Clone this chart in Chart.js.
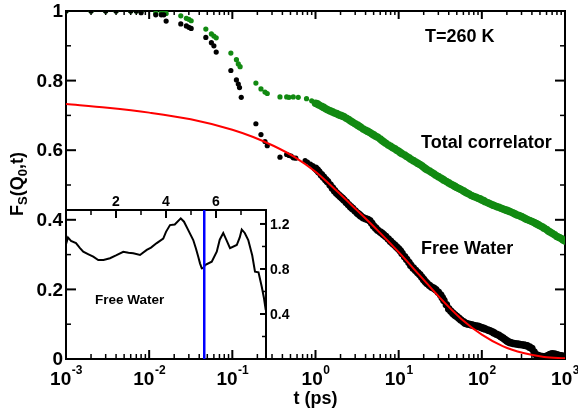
<!DOCTYPE html>
<html>
<head>
<meta charset="utf-8">
<script src="https://cdn.jsdelivr.net/npm/chart.js@4.4.0/dist/chart.umd.min.js"></script>
<style>
  html, body { margin: 0; padding: 0; background: #fff; }
  #wrap { position: relative; width: 578px; height: 416px; }
  #wrap canvas { position: absolute; left: 0; top: 0; }
</style>
</head>
<body>
<div id="wrap">
  <canvas id="mainChart" width="578" height="416"></canvas>
  <canvas id="insetChart" width="578" height="416"></canvas>
</div>
<script>
// Early (sparse) part of the free water correlator, t in ps
const freeEarlyT = [0.001, 0.002, 0.003, 0.004, 0.006, 0.007, 0.008,
  0.012, 0.014, 0.015, 0.016, 0.024, 0.028, 0.030, 0.032,
  0.048, 0.056, 0.060, 0.064, 0.096, 0.112, 0.118, 0.122, 0.128,
  0.192, 0.221, 0.247, 0.263,
  0.374, 0.45, 0.48, 0.51, 0.54, 0.58, 0.75, 0.8, 0.87, 0.93];
const freeEarlyF = [1, 1, 1, 1, 1, 1, 0.995,
  0.989, 0.989, 0.989, 0.971, 0.963, 0.957, 0.953, 0.950,
  0.924, 0.909, 0.900, 0.882, 0.829, 0.802, 0.790, 0.780, 0.752,
  0.676, 0.645, 0.625, 0.613,
  0.580, 0.588, 0.585, 0.583, 0.578, 0.577, 0.570, 0.566, 0.560, 0.556];

// Early (sparse) part of the total correlator
const totalEarlyT = [0.001, 0.002, 0.003, 0.004, 0.006, 0.007, 0.008,
  0.012, 0.014, 0.015, 0.016, 0.024, 0.028, 0.030, 0.032,
  0.048, 0.056, 0.060, 0.064, 0.096, 0.112, 0.118, 0.124,
  0.192, 0.221, 0.247, 0.263,
  0.374, 0.45, 0.48, 0.54, 0.62, 0.78, 0.9];
const totalEarlyF = [1, 1, 1, 1, 1, 1, 1,
  0.994, 0.994, 0.994, 0.993, 0.986, 0.979, 0.976, 0.972,
  0.948, 0.934, 0.928, 0.923, 0.879, 0.860, 0.848, 0.840,
  0.793, 0.776, 0.767, 0.763,
  0.753, 0.753, 0.752, 0.753, 0.752, 0.748, 0.742];

// Dense part, 1 ps .. 1000 ps (both correlators sampled at these times)
const denseT = [
  1, 1.05, 1.1, 1.18, 1.25, 1.33, 1.4, 1.5, 1.6, 1.7, 1.8, 1.9, 2, 2.1, 2.2, 2.35, 2.5, 2.65, 2.8, 3,
  3.2, 3.35, 3.5, 3.75, 4, 4.25, 4.5, 4.75, 5, 5.3, 5.6, 6, 6.3, 6.6, 7, 7.5, 8, 8.5, 9, 9.5,
  10, 10.5, 11, 11.8, 12.5, 13.3, 14, 15, 16, 17, 18, 19, 20, 21, 22, 23.5, 25, 26.5, 28, 30,
  32, 33.5, 35, 37.5, 40, 42.5, 45, 47.5, 50, 53, 56, 60, 63, 66, 70, 75, 80, 85, 90, 95,
  100, 105, 110, 118, 125, 133, 140, 150, 160, 170, 180, 190, 200, 210, 220, 235, 250, 265, 280, 300,
  320, 335, 350, 375, 400, 425, 450, 475, 500, 530, 560, 600, 630, 660, 700, 750, 800, 850, 900, 950, 1000];
const freeDenseF = [
  0.548, 0.543, 0.537, 0.529, 0.522, 0.515, 0.509, 0.500, 0.491, 0.483, 0.476, 0.471, 0.466, 0.462, 0.457, 0.450, 0.443, 0.437, 0.432, 0.425,
  0.419, 0.415, 0.411, 0.406, 0.403, 0.401, 0.397, 0.390, 0.382, 0.376, 0.370, 0.365, 0.361, 0.357, 0.352, 0.345, 0.338, 0.332, 0.327, 0.321,
  0.316, 0.310, 0.303, 0.294, 0.286, 0.277, 0.269, 0.261, 0.254, 0.248, 0.242, 0.235, 0.228, 0.222, 0.217, 0.211, 0.206, 0.203, 0.199, 0.192,
  0.184, 0.176, 0.168, 0.156, 0.144, 0.137, 0.131, 0.126, 0.122, 0.117, 0.112, 0.107, 0.103, 0.101, 0.100, 0.098, 0.096, 0.095, 0.094, 0.092,
  0.090, 0.088, 0.086, 0.083, 0.081, 0.078, 0.075, 0.071, 0.068, 0.064, 0.060, 0.056, 0.052, 0.049, 0.047, 0.045, 0.044, 0.043, 0.042, 0.041,
  0.040, 0.039, 0.038, 0.034, 0.030, 0.020, 0.012, 0.010, 0.008, 0.007, 0.006, 0.008, 0.010, 0.013, 0.015, 0.014, 0.012, 0.010, 0.009, 0.008, 0.007];
const totalDenseF = [
  0.735, 0.733, 0.730, 0.726, 0.723, 0.719, 0.716, 0.713, 0.710, 0.707, 0.705, 0.702, 0.700, 0.698, 0.696, 0.692, 0.688, 0.684, 0.680, 0.676,
  0.672, 0.669, 0.666, 0.661, 0.657, 0.654, 0.651, 0.647, 0.644, 0.640, 0.637, 0.632, 0.628, 0.624, 0.620, 0.615, 0.611, 0.607, 0.604, 0.600,
  0.597, 0.593, 0.590, 0.586, 0.582, 0.578, 0.574, 0.570, 0.566, 0.562, 0.559, 0.555, 0.551, 0.547, 0.544, 0.540, 0.536, 0.532, 0.528, 0.524,
  0.520, 0.517, 0.514, 0.510, 0.506, 0.502, 0.499, 0.496, 0.493, 0.490, 0.487, 0.483, 0.480, 0.477, 0.474, 0.470, 0.467, 0.465, 0.462, 0.460,
  0.457, 0.455, 0.452, 0.449, 0.446, 0.443, 0.441, 0.438, 0.436, 0.433, 0.431, 0.429, 0.427, 0.425, 0.423, 0.420, 0.417, 0.414, 0.412, 0.409,
  0.406, 0.403, 0.401, 0.398, 0.395, 0.392, 0.389, 0.386, 0.383, 0.380, 0.376, 0.372, 0.368, 0.365, 0.361, 0.357, 0.352, 0.349, 0.346, 0.342, 0.339];

// Fit (red line)
const fitT = [0.001, 0.00316, 0.01, 0.0316, 0.1, 0.178, 0.316, 0.562, 1, 1.78, 3.16, 5.62,
  10, 17.8, 31.6, 56.2, 100, 178, 316, 562, 1000];
const fitF = [0.733, 0.722, 0.708, 0.689, 0.659, 0.638, 0.612, 0.580, 0.538, 0.484, 0.427, 0.369,
  0.307, 0.241, 0.175, 0.116, 0.070, 0.037, 0.017, 0.006, 0.002];

// Inset curve (top axis 0..8, right axis 0..1.32)
const insetQ = [0, 0.08, 0.2, 0.4, 0.56, 0.69, 0.9, 1.09, 1.29, 1.5, 1.76, 2.0, 2.29, 2.5, 2.69, 2.96,
  3.23, 3.4, 3.63, 3.89, 4.0, 4.16, 4.35, 4.59, 4.72, 4.88, 5.09, 5.2, 5.29, 5.36, 5.43, 5.5, 5.56, 5.83,
  6.03, 6.15, 6.29, 6.45, 6.56, 6.83, 6.95, 7.03, 7.15, 7.29, 7.45, 7.56, 7.7, 7.83, 7.92, 7.99];
const insetS = [1.02, 1.08, 1.05, 1.03, 0.986, 0.953, 0.93, 0.909, 0.88, 0.88, 0.895, 0.92, 0.953, 0.945, 0.94, 0.924,
  0.97, 0.99, 1.03, 1.07, 1.13, 1.19, 1.195, 1.25, 1.22, 1.15, 1.057, 0.98, 0.909, 0.85, 0.806, 0.81, 0.835, 0.865,
  0.953, 1.06, 1.12, 1.04, 0.984, 1.013, 1.08, 1.15, 1.12, 1.057, 0.92, 0.776, 0.77, 0.642, 0.54, 0.435];
const q0 = 5.53;
const insetSMax = 1.324;

// tick labels
const xTickExp = [-3, -2, -1, 0, 1, 2, 3];
const xMinorMult = [2, 3, 4, 5, 6, 7, 8, 9];
const yMajor = [0, 0.2, 0.4, 0.6, 0.8, 1];
const yMajorLabels = ['0', '0.2', '0.4', '0.6', '0.8', '1'];
const yMinor = [0.1, 0.3, 0.5, 0.7, 0.9];
const insetTopMajor = [2, 4, 6];
const insetTopMinor = [1, 3, 5, 7];
const insetRightMajor = [0.4, 0.8, 1.2];
const insetRightMinor = [0.2, 0.6, 1.0];

const FONT = "'Liberation Sans', Arial, Helvetica, sans-serif";
const pts = (xs, ys) => xs.map((x, i) => ({ x: x, y: ys[i] }));

function seg(ctx, x1, y1, x2, y2) {
  ctx.beginPath();
  ctx.moveTo(x1, y1);
  ctx.lineTo(x2, y2);
  ctx.stroke();
}

const mainAxes = {
  id: 'mainAxes',
  beforeDatasetsDraw(chart) {
    const { ctx, chartArea: a, scales: { x, y } } = chart;
    ctx.save();
    ctx.strokeStyle = '#000';
    ctx.lineWidth = 2;
    ctx.strokeRect(a.left, a.top, a.right - a.left, a.bottom - a.top);
    xTickExp.forEach(e => {
      const px = x.getPixelForValue(Math.pow(10, e));
      ctx.lineWidth = 2;
      seg(ctx, px, a.bottom, px, a.bottom - 9);
      seg(ctx, px, a.top, px, a.top + 8);
      if (e < 3) {
        ctx.lineWidth = 1.5;
        xMinorMult.forEach(m => {
          const mx = x.getPixelForValue(m * Math.pow(10, e));
          seg(ctx, mx, a.bottom, mx, a.bottom - 5);
          seg(ctx, mx, a.top, mx, a.top + 4);
        });
      }
    });
    ctx.lineWidth = 2;
    yMajor.forEach(v => {
      const py = y.getPixelForValue(v);
      seg(ctx, a.left, py, a.left + 10, py);
      seg(ctx, a.right, py, a.right - 10, py);
    });
    ctx.lineWidth = 1.5;
    yMinor.forEach(v => {
      const py = y.getPixelForValue(v);
      seg(ctx, a.left, py, a.left + 5, py);
      seg(ctx, a.right, py, a.right - 5, py);
    });
    ctx.restore();
  },
  afterDraw(chart) {
    const { ctx, chartArea: a, scales: { x, y } } = chart;
    ctx.save();
    ctx.fillStyle = '#000';
    // x tick labels 10^n
    xTickExp.forEach(e => {
      const px = x.getPixelForValue(Math.pow(10, e));
      const base = '10', sup = String(e);
      ctx.font = 'bold 19px ' + FONT;
      const w1 = ctx.measureText(base).width;
      ctx.font = 'bold 12px ' + FONT;
      const w2 = ctx.measureText(sup).width;
      const x0 = px - (w1 + w2) / 2;
      ctx.textAlign = 'left';
      ctx.textBaseline = 'alphabetic';
      ctx.font = 'bold 19px ' + FONT;
      ctx.fillText(base, x0, 385);
      ctx.font = 'bold 12px ' + FONT;
      ctx.fillText(sup, x0 + w1 + 0.5, 374);
    });
    // y tick labels
    ctx.font = 'bold 19px ' + FONT;
    ctx.textAlign = 'right';
    ctx.textBaseline = 'middle';
    yMajor.forEach((v, i) => {
      ctx.fillText(yMajorLabels[i], a.left - 3, y.getPixelForValue(v) + 1);
    });
    // x title
    ctx.font = 'bold 18px ' + FONT;
    ctx.textAlign = 'center';
    ctx.textBaseline = 'alphabetic';
    ctx.fillText('t (ps)', (a.left + a.right) / 2, 404);
    // y title F_S(Q_0,t)
    ctx.save();
    ctx.translate(23, 184);
    ctx.rotate(-Math.PI / 2);
    const parts = [['F', 18, 0], ['S', 13, 4], ['(Q', 18, 0], ['0', 13, 4], [',t)', 18, 0]];
    let total = 0;
    parts.forEach(p => { ctx.font = 'bold ' + p[1] + 'px ' + FONT; total += ctx.measureText(p[0]).width; });
    let cx = -total / 2;
    ctx.textAlign = 'left';
    parts.forEach(p => {
      ctx.font = 'bold ' + p[1] + 'px ' + FONT;
      ctx.fillText(p[0], cx, p[2]);
      cx += ctx.measureText(p[0]).width;
    });
    ctx.restore();
    // annotations
    ctx.font = 'bold 18px ' + FONT;
    ctx.textAlign = 'left';
    ctx.fillText('T=260 K', 425, 42);
    ctx.fillText('Total correlator', 421, 148);
    ctx.fillText('Free Water', 421, 254);
    ctx.restore();
  }
};

new Chart(document.getElementById('mainChart'), {
  type: 'scatter',
  data: {
    datasets: [
      {
        label: 'Fit',
        data: pts(fitT, fitF),
        showLine: true,
        borderColor: '#ff0000',
        borderWidth: 2,
        pointRadius: 0,
        cubicInterpolationMode: 'monotone',
        fill: false
      },
      {
        label: 'Free Water (dense)',
        data: pts(denseT, freeDenseF),
        pointRadius: 3.8,
        pointBorderWidth: 0,
        pointBackgroundColor: '#000000',
        pointBorderColor: '#000000'
      },
      {
        label: 'Free Water',
        data: pts(freeEarlyT, freeEarlyF),
        pointRadius: 2.6,
        pointBorderWidth: 0,
        pointBackgroundColor: '#000000',
        pointBorderColor: '#000000'
      },
      {
        label: 'Total correlator (dense)',
        data: pts(denseT, totalDenseF),
        pointRadius: 3.8,
        pointBorderWidth: 0,
        pointBackgroundColor: '#128a12',
        pointBorderColor: '#128a12'
      },
      {
        label: 'Total correlator',
        data: pts(totalEarlyT, totalEarlyF),
        pointRadius: 2.6,
        pointBorderWidth: 0,
        pointBackgroundColor: '#128a12',
        pointBorderColor: '#128a12'
      }
    ]
  },
  options: {
    responsive: false,
    animation: false,
    devicePixelRatio: 1,
    layout: { padding: { left: 66, right: 13, top: 11, bottom: 57 } },
    plugins: { legend: { display: false }, tooltip: { enabled: false } },
    scales: {
      x: { type: 'logarithmic', min: 1e-3, max: 1e3, display: false },
      y: { type: 'linear', min: 0, max: 1, display: false }
    }
  },
  plugins: [mainAxes]
});

const insetAxes = {
  id: 'insetAxes',
  beforeDatasetsDraw(chart) {
    const { ctx, chartArea: a, scales: { x, y } } = chart;
    ctx.save();
    ctx.strokeStyle = '#000';
    ctx.lineWidth = 2;
    ctx.beginPath();
    ctx.moveTo(a.left, a.top);
    ctx.lineTo(a.right, a.top);
    ctx.lineTo(a.right, a.bottom);
    ctx.stroke();
    insetTopMajor.forEach(q => { const px = x.getPixelForValue(q); seg(ctx, px, a.top, px, a.top + 8); });
    ctx.lineWidth = 1.5;
    insetTopMinor.forEach(q => { const px = x.getPixelForValue(q); seg(ctx, px, a.top, px, a.top + 5); });
    ctx.lineWidth = 2;
    insetRightMajor.forEach(v => { const py = y.getPixelForValue(v); seg(ctx, a.right, py, a.right - 6, py); });
    ctx.lineWidth = 1.5;
    insetRightMinor.forEach(v => { const py = y.getPixelForValue(v); seg(ctx, a.right, py, a.right - 4, py); });
    ctx.restore();
  },
  afterDraw(chart) {
    const { ctx, chartArea: a, scales: { x, y } } = chart;
    ctx.save();
    ctx.fillStyle = '#000';
    ctx.font = 'bold 14px ' + FONT;
    ctx.textAlign = 'center';
    ctx.textBaseline = 'alphabetic';
    insetTopMajor.forEach(q => ctx.fillText(String(q), x.getPixelForValue(q), a.top - 4));
    ctx.textAlign = 'left';
    ctx.textBaseline = 'middle';
    insetRightMajor.forEach(v => ctx.fillText(v.toFixed(1), a.right + 4, y.getPixelForValue(v) + 1));
    ctx.font = 'bold 13.5px ' + FONT;
    ctx.textBaseline = 'alphabetic';
    ctx.fillText('Free Water', 95, 304);
    ctx.restore();
  }
};

new Chart(document.getElementById('insetChart'), {
  type: 'scatter',
  data: {
    datasets: [
      {
        label: 'Q0',
        data: [{ x: q0, y: 0 }, { x: q0, y: insetSMax }],
        showLine: true,
        borderColor: '#0000ff',
        borderWidth: 2.5,
        pointRadius: 0
      },
      {
        label: 'S(Q)',
        data: pts(insetQ, insetS),
        showLine: true,
        borderColor: '#000000',
        borderWidth: 2,
        pointRadius: 0
      }
    ]
  },
  options: {
    responsive: false,
    animation: false,
    devicePixelRatio: 1,
    layout: { padding: { left: 66, right: 312, top: 210, bottom: 57 } },
    plugins: { legend: { display: false }, tooltip: { enabled: false } },
    scales: {
      x: { type: 'linear', min: 0, max: 8, display: false },
      y: { type: 'linear', min: 0, max: insetSMax, display: false }
    }
  },
  plugins: [insetAxes]
});
</script>
</body>
</html>
